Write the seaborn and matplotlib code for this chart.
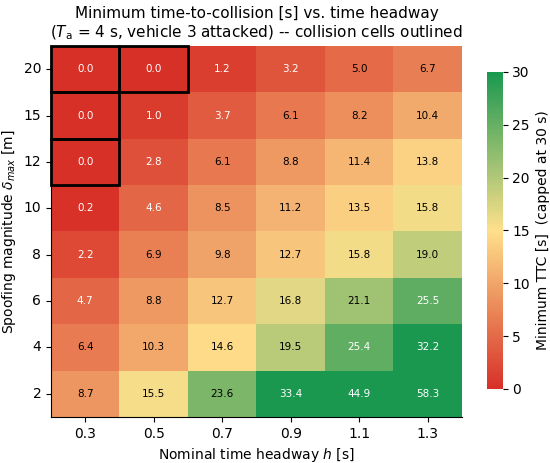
import numpy as np
import pandas as pd
import matplotlib
matplotlib.use("Agg")
import matplotlib.pyplot as plt
import seaborn as sns
from matplotlib.colors import LinearSegmentedColormap
from matplotlib.patches import Rectangle

# data
headways = [0.3, 0.5, 0.7, 0.9, 1.1, 1.3]
spoof_mag = [20, 15, 12, 10, 8, 6, 4, 2]
ttc_20 = [0.0, 0.0, 1.2, 3.2, 5.0, 6.7]
ttc_15 = [0.0, 1.0, 3.7, 6.1, 8.2, 10.4]
ttc_12 = [0.0, 2.8, 6.1, 8.8, 11.4, 13.8]
ttc_10 = [0.2, 4.6, 8.5, 11.2, 13.5, 15.8]
ttc_8 = [2.2, 6.9, 9.8, 12.7, 15.8, 19.0]
ttc_6 = [4.7, 8.8, 12.7, 16.8, 21.1, 25.5]
ttc_4 = [6.4, 10.3, 14.6, 19.5, 25.4, 32.2]
ttc_2 = [8.7, 15.5, 23.6, 33.4, 44.9, 58.3]

df = pd.DataFrame([ttc_20, ttc_15, ttc_12, ttc_10, ttc_8, ttc_6, ttc_4, ttc_2],
                  index=spoof_mag, columns=headways)
cap = 30
capped = df.clip(upper=cap)

cmap = LinearSegmentedColormap.from_list("ttc", ["#d73027", "#fee08b", "#1a9850"])

fig = plt.figure(figsize=(5.5, 4.63), dpi=100)
ax = fig.add_axes([0.0927, 0.0994, 0.7473, 0.8012])
cax = fig.add_axes([0.885, 0.160, 0.029, 0.6847])
sns.heatmap(capped, ax=ax, cbar_ax=cax, cmap=cmap, vmin=0, vmax=cap,
            annot=df.values, fmt=".1f", annot_kws={"size": 7.5},
            cbar_kws={"label": "Minimum TTC [s]  (capped at 30 s)",
                      "ticks": [0, 5, 10, 15, 20, 25, 30]})

# text colour: white on the dark ends
for txt, v in zip(ax.texts, capped.values.flatten()):
    txt.set_color("white" if (v < 5 or v > 24) else "black")

# outline collision cells
for i in range(df.shape[0]):
    for j in range(df.shape[1]):
        if df.values[i, j] <= 0.0:
            ax.add_patch(Rectangle((j, i), 1, 1, fill=False, edgecolor="black", lw=2, clip_on=False))

ax.set_xticklabels([f"{h:.1f}" for h in headways], rotation=0)
ax.set_yticklabels([str(s) for s in spoof_mag], rotation=0)
ax.set_xlabel("Nominal time headway $h$ [s]")
ax.set_ylabel("Spoofing magnitude $\\delta_{max}$ [m]")
ax.set_title("Minimum time-to-collision [s] vs. time headway\n"
             "($T_\\mathrm{a}$ = 4 s, vehicle 3 attacked) -- collision cells outlined", fontsize=11)
for s in ["left", "bottom"]:
    ax.spines[s].set_visible(True)
cbar = ax.collections[0].colorbar
cbar.outline.set_visible(True)
cbar.outline.set_edgecolor("0.3")

plt.savefig("out.png", dpi=100)
